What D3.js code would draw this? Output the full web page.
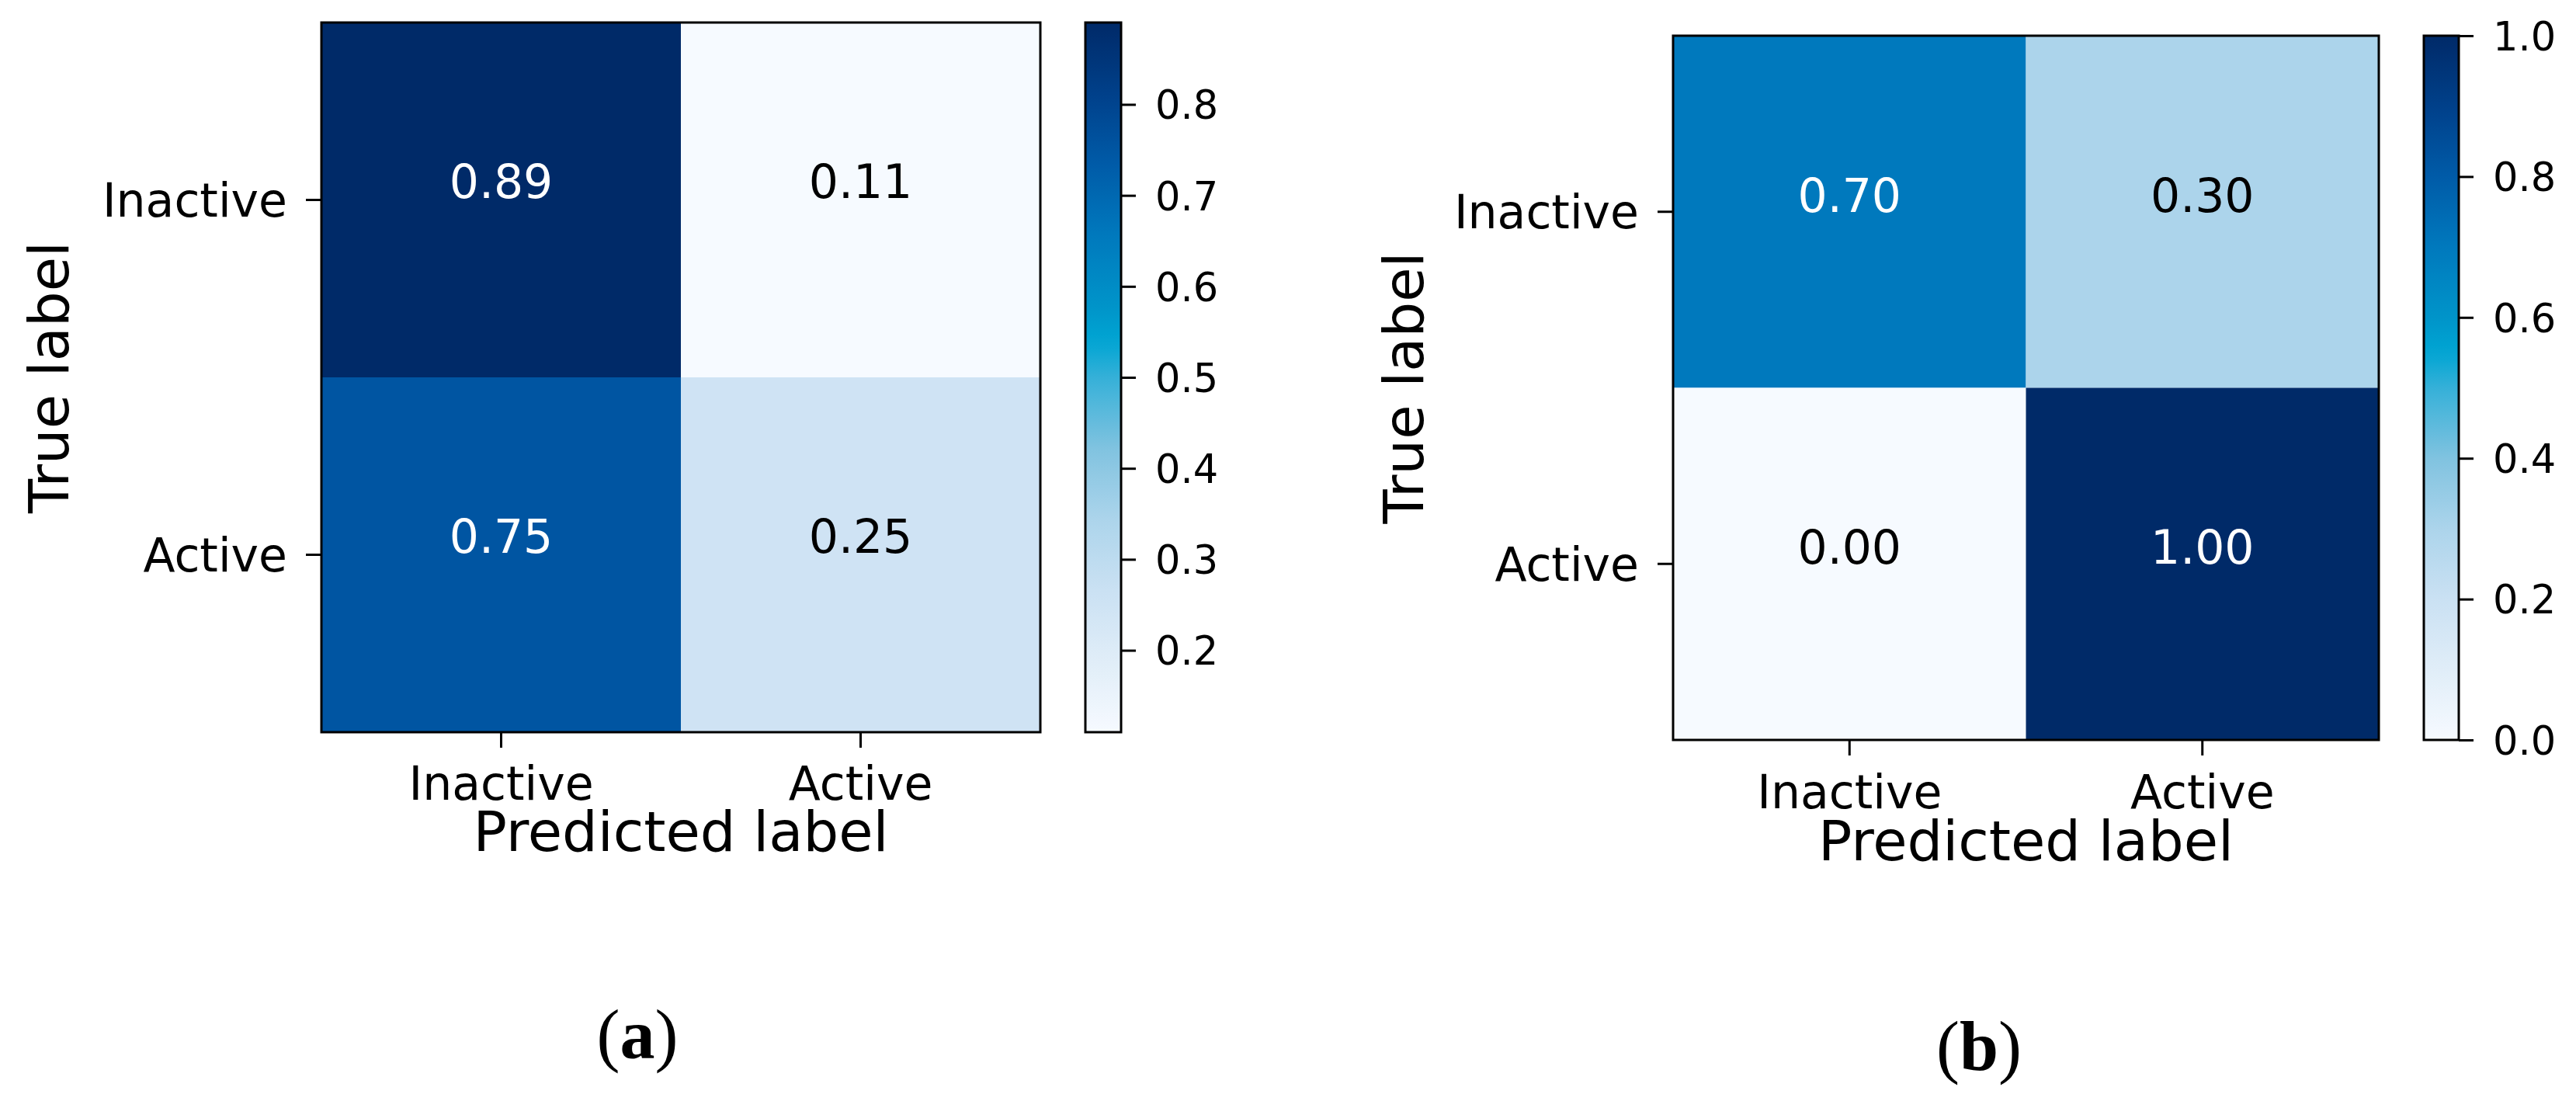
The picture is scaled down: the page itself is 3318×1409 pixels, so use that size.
<!DOCTYPE html>
<html>
<head>
<meta charset="utf-8">
<script src="https://cdn.jsdelivr.net/npm/d3@7"></script>
<style>
  html, body { margin: 0; padding: 0; background: #ffffff; }
  svg { display: block; }
  text { font-family: "DejaVu Sans", sans-serif; }
</style>
</head>
<body>
<svg id="chart" width="3318" height="1409"></svg>
<script>
// ---------------- data ----------------
const categories = ["Inactive", "Active"];
const matrixA = [[0.89, 0.11], [0.75, 0.25]];
const matrixB = [[0.70, 0.30], [0.00, 1.00]];
const colorbarTicksA = [0.2, 0.3, 0.4, 0.5, 0.6, 0.7, 0.8];
const colorbarTicksB = [0.0, 0.2, 0.4, 0.6, 0.8, 1.0];
const panelLetters = ["a", "b"];
const xTitle = "Predicted label";
const yTitle = "True label";

// colormap (Blues as it appears in the reference)
const cmapPos = [0, 0.1, 0.2, 0.3, 0.4, 0.5, 0.55, 0.6, 0.7, 0.8, 0.9, 1.0];
const cmapCol = ["#f6faff", "#e0edf8", "#cae1f3", "#acd4eb", "#80c3e0", "#35b0d8",
                 "#00a5d3", "#0094c9", "#0079bd", "#005ba8", "#00408a", "#002a68"];
const cmap = d3.scaleLinear().domain(cmapPos).range(cmapCol).interpolate(d3.interpolateRgb);

// ---------------- layout ----------------
const panels = [
  { matrix: matrixA, ticks: colorbarTicksA, letter: panelLetters[0],
    hx: [414, 1340], hy: [29, 943], cb: [1398, 1444],
    ytitleX: 88, xtickBase: 1030, xtitleBase: 1096, annOff: -3,
    letterX: 821, letterBase: 1363 },
  { matrix: matrixB, ticks: colorbarTicksB, letter: panelLetters[1],
    hx: [2155, 3064], hy: [46, 953], cb: [3122, 3167],
    ytitleX: 1833, xtickBase: 1041, xtitleBase: 1108, annOff: 0,
    letterX: 2549, letterBase: 1378 }
];

const svg = d3.select("#chart");
const defs = svg.append("defs");

panels.forEach((p, pi) => {
  const g = svg.append("g");
  const flat = p.matrix.flat();
  const vmin = d3.min(flat), vmax = d3.max(flat);
  const norm = d3.scaleLinear().domain([vmin, vmax]).range([0, 1]);
  const color = v => cmap(norm(v));
  const thresh = vmax / 2;

  const x = d3.scaleBand().domain(categories).range(p.hx).padding(0);
  const y = d3.scaleBand().domain(categories).range(p.hy).padding(0);

  // cells
  const cells = [];
  p.matrix.forEach((row, i) => row.forEach((v, j) => cells.push({ r: categories[i], c: categories[j], v })));
  g.selectAll("rect.cell").data(cells).enter().append("rect")
    .attr("class", "cell")
    .attr("x", d => x(d.c)).attr("y", d => y(d.r))
    .attr("width", x.bandwidth()).attr("height", y.bandwidth())
    .attr("fill", d => color(d.v));

  // annotations
  g.selectAll("text.ann").data(cells).enter().append("text")
    .attr("class", "ann")
    .attr("x", d => x(d.c) + x.bandwidth() / 2)
    .attr("y", d => y(d.r) + y.bandwidth() / 2 + p.annOff)
    .attr("text-anchor", "middle")
    .attr("font-size", 60)
    .attr("fill", d => d.v > thresh ? "#ffffff" : "#000000")
    .text(d => d.v.toFixed(2));

  // frame
  g.append("rect")
    .attr("x", p.hx[0]).attr("y", p.hy[0])
    .attr("width", p.hx[1] - p.hx[0]).attr("height", p.hy[1] - p.hy[0])
    .attr("fill", "none").attr("stroke", "#000").attr("stroke-width", 3);

  // y axis
  const yAxis = g.append("g").attr("transform", `translate(${p.hx[0]},0)`)
    .call(d3.axisLeft(y).tickSize(20).tickPadding(24));
  yAxis.select(".domain").remove();
  yAxis.selectAll(".tick line").attr("stroke", "#000").attr("stroke-width", 3);
  yAxis.selectAll(".tick text").attr("font-size", 60).attr("fill", "#000")
    .attr("font-family", "DejaVu Sans").attr("dy", "0.36em");

  // x axis
  const xAxis = g.append("g").attr("transform", `translate(0,${p.hy[1]})`)
    .call(d3.axisBottom(x).tickSize(20).tickPadding(0));
  xAxis.select(".domain").remove();
  xAxis.selectAll(".tick line").attr("stroke", "#000").attr("stroke-width", 3);
  xAxis.selectAll(".tick text").attr("font-size", 60).attr("fill", "#000")
    .attr("font-family", "DejaVu Sans")
    .attr("dy", null).attr("y", p.xtickBase - p.hy[1]);

  // axis titles
  g.append("text")
    .attr("x", (p.hx[0] + p.hx[1]) / 2).attr("y", p.xtitleBase)
    .attr("text-anchor", "middle").attr("font-size", 72).attr("fill", "#000")
    .text(xTitle);
  g.append("text")
    .attr("transform", `translate(${p.ytitleX},${(p.hy[0] + p.hy[1]) / 2}) rotate(-90)`)
    .attr("text-anchor", "middle").attr("font-size", 72).attr("fill", "#000")
    .text(yTitle);

  // colorbar
  const cbScale = d3.scaleLinear().domain([vmin, vmax]).range([p.hy[1], p.hy[0]]);
  const gradId = "grad" + pi;
  const grad = defs.append("linearGradient").attr("id", gradId)
    .attr("x1", 0).attr("y1", 1).attr("x2", 0).attr("y2", 0);
  d3.range(0, 1.0001, 0.02).forEach(t => {
    grad.append("stop").attr("offset", t).attr("stop-color", cmap(t));
  });
  g.append("rect")
    .attr("x", p.cb[0]).attr("y", p.hy[0])
    .attr("width", p.cb[1] - p.cb[0]).attr("height", p.hy[1] - p.hy[0])
    .attr("fill", `url(#${gradId})`)
    .attr("stroke", "#000").attr("stroke-width", 3);
  const cbAxis = g.append("g").attr("transform", `translate(${p.cb[1]},0)`)
    .call(d3.axisRight(cbScale).tickValues(p.ticks).tickSize(19).tickPadding(25)
      .tickFormat(d3.format(".1f")));
  cbAxis.select(".domain").remove();
  cbAxis.selectAll(".tick line").attr("stroke", "#000").attr("stroke-width", 3);
  cbAxis.selectAll(".tick text").attr("font-size", 51).attr("fill", "#000")
    .attr("font-family", "DejaVu Sans").attr("dy", "0.36em");

  // panel letter
  const lt = g.append("text")
    .attr("x", p.letterX).attr("y", p.letterBase)
    .attr("text-anchor", "middle").attr("font-size", 90).attr("fill", "#000")
    .style("font-family", "'Liberation Serif', serif");
  lt.append("tspan").text("(");
  lt.append("tspan").attr("font-weight", "bold").text(p.letter);
  lt.append("tspan").text(")");
});
</script>
</body>
</html>
